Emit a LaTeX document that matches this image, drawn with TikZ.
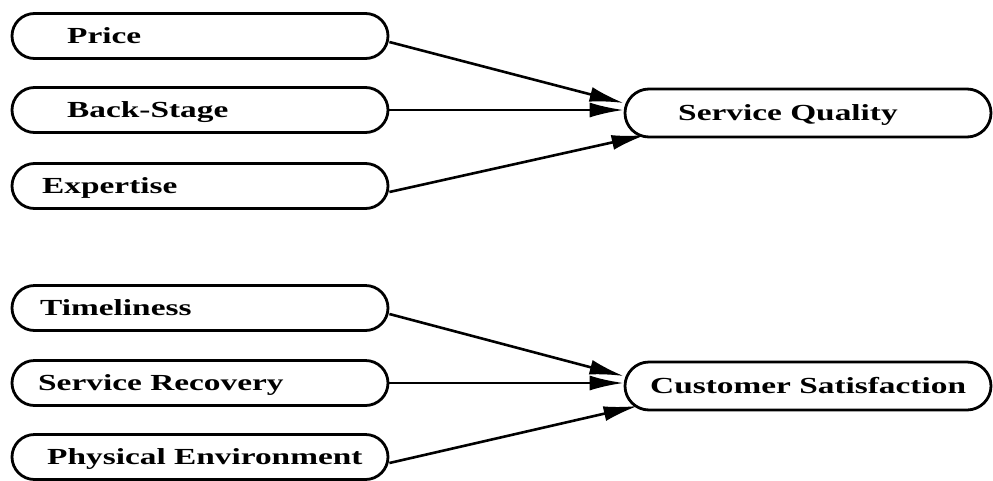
\documentclass[tikz,border=0pt]{standalone}
\usepackage{fontspec}
\setmainfont{Liberation Serif}[FakeStretch=1.45]
\usetikzlibrary{shapes.misc,arrows.meta}
\begin{document}
\begin{tikzpicture}[x=1pt,y=-1pt,
  box/.style={draw, line width=2.8pt, rounded rectangle, minimum height=45pt, inner sep=0pt},
  lbox/.style={box, minimum width=376pt},
  rbox/.style={box, minimum width=366pt, minimum height=48pt},
  lbl/.style={anchor=base west, inner sep=0pt, font=\fontsize{23}{23}\selectfont\bfseries},
  arr/.style={line width=2.6pt, -{Latex[length=34pt,width=15pt]}}]
\useasboundingbox (0,0) rectangle (993,480);
% left boxes
\node[lbox] (price) at (200,36) {};
\node[lbox] (back) at (200,110) {};
\node[lbox] (expert) at (200,186) {};
\node[lbox] (time) at (200,308) {};
\node[lbox] (recov) at (200,383) {};
\node[lbox] (phys) at (200,457) {};
% right boxes
\node[rbox] (sq) at (808,113) {};
\node[rbox] (cs) at (808,386) {};
% labels
\node[lbl] (tprice) at (67,43.5) {Price};
\node[lbl] (tback) at (67,117.5) {Back-Stage};
\node[lbl] (texpert) at (42,193.5) {Expertise};
\node[lbl] (ttime) at (40,315.5) {Timeliness};
\node[lbl] (trecov) at (38,390.5) {Service Recovery};
\node[lbl] (tphys) at (47,464.5) {Physical Environment};
\node[lbl] (tsq) at (678,120.5) {Service Quality};
\node[lbl] (tcs) at (650,393.5) {Customer Satisfaction};
% arrows
\draw[arr] ([yshift=-6pt]price.east) -- ([yshift=10pt]sq.west);
\draw[arr] (back.east) -- ([yshift=3pt]sq.west);
\draw[arr] ([yshift=-6pt]expert.east) -- ([xshift=22pt,yshift=-22pt]sq.west);
\draw[arr] ([yshift=-6pt]time.east) -- ([yshift=10pt]cs.west);
\draw[arr] (recov.east) -- ([yshift=3pt]cs.west);
\draw[arr] ([yshift=-6pt]phys.east) -- ([xshift=14pt,yshift=-20pt]cs.west);
\end{tikzpicture}
\end{document}
